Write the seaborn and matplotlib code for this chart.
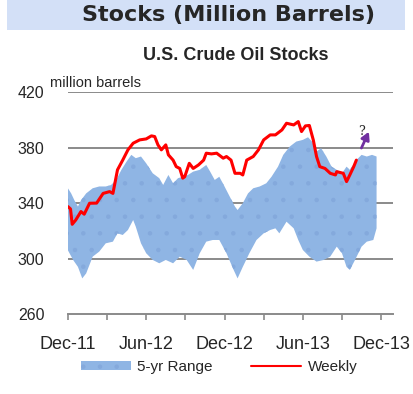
import matplotlib
matplotlib.use("Agg")
import matplotlib.pyplot as plt
import matplotlib.patches as mpatches
import numpy as np
import pandas as pd
import seaborn as sns

# months since Dec-11
weekly_m = [0, 0.2, 0.33, 0.6, 1.0, 1.25, 1.66, 2.2, 2.7, 3.2, 3.45, 3.8, 4.2, 4.6, 5.0, 5.5,
            6.0, 6.4, 6.65, 6.9, 7.16, 7.5, 7.7, 8.06, 8.3, 8.57, 8.8, 8.95, 9.3, 9.6, 10.0,
            10.4, 10.6, 11.0, 11.4, 11.9, 12.15, 12.5, 12.8, 13.2, 13.4, 13.7, 14.2, 14.6,
            15.0, 15.5, 15.9, 16.4, 16.75, 17.3, 17.65, 17.9, 18.2, 18.5, 18.8, 19.05, 19.3,
            19.7, 20.1, 20.5, 20.6, 21.1, 21.35, 21.6, 21.9, 22.1]
weekly_v = [337.5, 335.8, 324.7, 327.8, 333.9, 332, 339.9, 340, 347, 348.3, 347, 364, 371,
            378.4, 383.2, 385.6, 386.3, 388.5, 388, 382, 378.4, 382, 374.8, 371, 366.3, 365,
            358, 359, 368.7, 365, 367.5, 371, 376, 375.5, 376, 372.4, 373.6, 371, 361.5,
            361.5, 360.3, 371, 373.6, 378.4, 385.6, 389.2, 389.2, 392.8, 397.6, 396.4, 398.8,
            391.6, 395.7, 396, 385.6, 373.6, 366.3, 365, 361.5, 360.3, 362.7, 361.5, 355.5,
            360.3, 366.3, 371]

upper_m = [0, 0.25, 0.5, 0.77, 1.0, 1.4, 1.9, 2.4, 2.9, 3.3, 3.7, 4.1, 4.5, 4.86, 5.2, 5.6,
           6.0, 6.5, 7.0, 7.3, 7.7, 8.06, 8.44, 8.8, 9.2, 9.6, 10.1, 10.6, 10.9, 11.25, 11.6,
           12.0, 12.4, 12.8, 13.0, 13.4, 13.8, 14.2, 14.7, 15.2, 15.6, 16.1, 16.5, 17.0, 17.5,
           18.0, 18.4, 18.7, 19.05, 19.4, 19.8, 20.2, 20.6, 21.0, 21.35, 21.6, 22.1, 22.5,
           22.9, 23.3, 23.65]
upper_v = [350.7, 347, 342, 337.5, 342, 347, 350.7, 352, 352, 353, 356.7, 364, 370, 374.8,
           372.4, 373.6, 368.7, 361.5, 358, 353.1, 360.3, 354.3, 358, 359, 360.3, 362.7, 364,
           367.5, 362.7, 356.7, 359, 352, 344.7, 337.5, 335, 339.9, 347, 350.7, 352, 354.3,
           359, 366.3, 374.8, 380.8, 384.4, 385.6, 387.5, 384.4, 377.2, 379.6, 373.6, 366.3,
           364, 361.5, 366.3, 364, 371, 374.8, 373.6, 374.8, 373.6]

lower_m = [0, 0.4, 0.77, 1.1, 1.4, 1.9, 2.4, 2.9, 3.45, 3.8, 4.2, 4.6, 5.0, 5.2, 5.6, 6.0,
           6.5, 7.0, 7.5, 8.06, 8.57, 9.1, 9.6, 10.1, 10.6, 11.1, 11.6, 12.15, 12.7, 13.0,
           13.4, 13.9, 14.45, 15.0, 15.5, 15.9, 16.2, 16.75, 17.3, 17.65, 18.0, 18.5, 19.05,
           19.6, 20.1, 20.6, 21.0, 21.35, 21.6, 22.0, 22.5, 22.9, 23.4, 23.65]
lower_v = [306, 299, 294, 285.7, 289.3, 301.4, 305, 311, 312.2, 318.2, 317, 320.6, 327.8,
           323, 311, 303.8, 299, 296.6, 299, 296.6, 301.4, 299, 291.8, 303.8, 312.2, 313.4,
           313.4, 303.8, 291.8, 285.7, 294, 303.8, 313.4, 318.2, 320.6, 321.8, 318.2, 326.6,
           321.8, 313.4, 306.2, 301.4, 297.8, 299, 301.4, 308.6, 303.8, 294, 291.8, 299,
           308.6, 312.2, 313.4, 321.8]

tick_pos = [0, 6, 12, 18, 24]
tick_labels = ["Dec-11", "Jun-12", "Dec-12", "Jun-13", "Dec-13"]
y_ticks = [260, 300, 340, 380, 420]

sns.set_style("white")
plt.rcParams['font.family'] = ['Liberation Sans', 'DejaVu Sans']
plt.rcParams['hatch.linewidth'] = 0.8

fig = plt.figure(figsize=(4.14, 3.94), dpi=100)
ax = fig.add_axes([0.164, 0.203, 0.785, 0.563])

# title band
fig.patches.append(mpatches.Rectangle((0.017, 0.924), 0.961, 0.076, transform=fig.transFigure,
                                      facecolor="#d3e0f7", edgecolor="none", zorder=0))
fig.text(0.553, 0.962, "Stocks (Million Barrels)", ha="center", va="center",
         fontsize=16, fontweight="bold", family="DejaVu Sans")
fig.text(0.57, 0.858, "U.S. Crude Oil Stocks", ha="center", va="center",
         fontsize=13, fontweight="bold")

# 5-yr band
band_x = np.r_[upper_m, lower_m[::-1]]
band_y = np.r_[upper_v, lower_v[::-1]]
ax.fill(band_x, band_y, facecolor="#8fb5e4", edgecolor="#84a9dc", hatch=".",
        linewidth=0, zorder=2)

df = pd.DataFrame({"m": weekly_m, "v": weekly_v})
sns.lineplot(data=df, x="m", y="v", ax=ax, color="#ff0000", linewidth=2.2, zorder=4)

ax.annotate("", xy=(23.15, 393.3), xytext=(22.4, 377.9),
            arrowprops=dict(arrowstyle="-|>,head_width=0.25,head_length=0.45",
                            color="#7030a0", lw=2), zorder=5)
ax.text(22.5, 391.5, "?", fontsize=9, family="DejaVu Serif", ha="center", va="center")

ax.set_xlim(0, 24.9)
ax.set_ylim(260, 420)
ax.set_yticks(y_ticks)
ax.set_xticks(tick_pos)
ax.set_xticklabels(tick_labels)
ax.set_xticks([3, 9, 15, 21], minor=True)
ax.set_xlabel("")
ax.set_ylabel("")
for y in y_ticks[1:]:
    ax.axhline(y, color="#8a8a8a", linewidth=1.4, zorder=1)

for s in ["top", "right", "left"]:
    ax.spines[s].set_visible(False)
ax.spines["bottom"].set_color("#8a8a8a")
ax.spines["bottom"].set_linewidth(1.4)
ax.tick_params(axis="x", which="both", direction="out", length=4, width=1.2,
               color="#8a8a8a", bottom=True, labelsize=13, pad=12)
ax.tick_params(axis="y", length=0, labelsize=11.5, pad=17)

ax.text(-1.4, 421.5, "million barrels", fontsize=10.5, ha="left", va="bottom")

handles = [mpatches.Patch(facecolor="#8fb5e4", edgecolor="#84a9dc", hatch=".", linewidth=0),
           plt.Line2D([], [], color="#ff0000", linewidth=1.5)]
fig.legend(handles, ["5-yr Range", "Weekly"], loc="center", bbox_to_anchor=(0.529, 0.069),
           ncol=2, frameon=False, fontsize=11, handlelength=3.3, handleheight=0.6,
           columnspacing=2.5, handletextpad=0.4)

fig.savefig("out.png", dpi=100)
